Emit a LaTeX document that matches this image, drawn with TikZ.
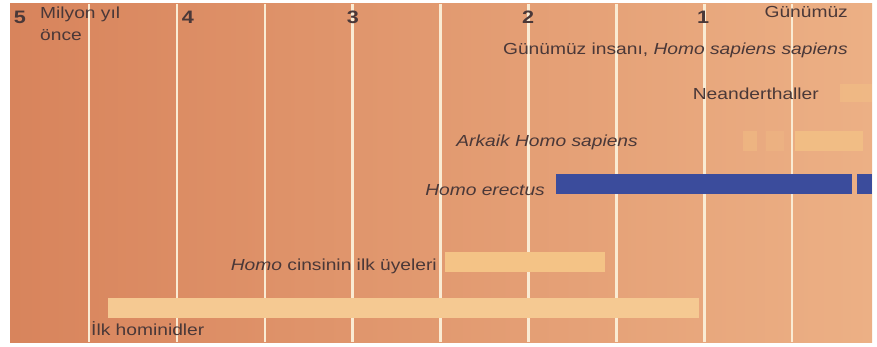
\documentclass[tikz,border=0pt]{standalone}
\usepackage{fontspec}
\setmainfont[FakeStretch=1.2]{Liberation Sans}
\definecolor{EvoLeft}{HTML}{D8845C}
\definecolor{EvoRight}{HTML}{ECB085}
\definecolor{EvoLine}{HTML}{FAEBD3}
\definecolor{EvoBar}{HTML}{F4C386}
\definecolor{EvoBlue}{HTML}{3B4C9C}
\definecolor{EvoText}{HTML}{4A3838}

\begin{document}
\begin{tikzpicture}[x=1pt,y=-1pt,
  lbl/.style={font=\fontsize{16}{18}\selectfont,text=EvoText,inner sep=0pt},
  num/.style={font=\fontsize{18}{20}\selectfont\bfseries,text=EvoText,inner sep=0pt}]
\useasboundingbox (0,0) rectangle (877,347);
\fill[white] (0,0) rectangle (877,347);
\shade[left color=EvoLeft,right color=EvoRight] (10,4) rectangle (872,342);
\foreach \k in {0,...,8}
  \draw[line width=2.5pt,draw=EvoLine] ({89+87.9*\k},4)--({89+87.9*\k},342);
% zaman ekseni
\node[num] (n5) at (20,17) {5};
\node[num] (n4) at (188,17) {4};
\node[num] (n3) at (353,17) {3};
\node[num] (n2) at (528,17) {2};
\node[num] (n1) at (703,17) {1};
\node[lbl,anchor=base west] (myo) at (40,19) {Milyon yıl};
\node[lbl,anchor=base west] (once) at (40,41) {önce};
\node[lbl,anchor=base east] (gun) at (848,18) {Günümüz};
% çubuklar
\fill[EvoBar,opacity=0.45] (840,84) rectangle (872,102);
\fill[EvoBar,opacity=0.4] (743,131) rectangle (757,151);
\fill[EvoBar,opacity=0.25] (766,131) rectangle (784,151);
\fill[EvoBar,opacity=0.75] (795,131) rectangle (863,151);
\fill[EvoBlue] (556,174) rectangle (852,194);
\fill[EvoBlue] (857,174) rectangle (872,194);
\fill[EvoBar] (445,252) rectangle (605,272);
\fill[EvoBar!90!white] (108,298) rectangle (699,318);
% etiketler
\node[lbl,anchor=base east] (hss) at (848,55) {Günümüz insanı, \textit{Homo sapiens sapiens}};
\node[lbl,anchor=base east] (nean) at (819,100) {Neanderthaller};
\node[lbl,anchor=base east] (ahs) at (638,147) {\textit{Arkaik Homo sapiens}};
\node[lbl,anchor=base east] (her) at (545,196) {\textit{Homo erectus}};
\node[lbl,anchor=base east] (cins) at (437,270) {\textit{Homo} cinsinin ilk üyeleri};
\node[lbl,anchor=base west] (ilk) at (91,335) {İlk hominidler};
\end{tikzpicture}
\end{document}
